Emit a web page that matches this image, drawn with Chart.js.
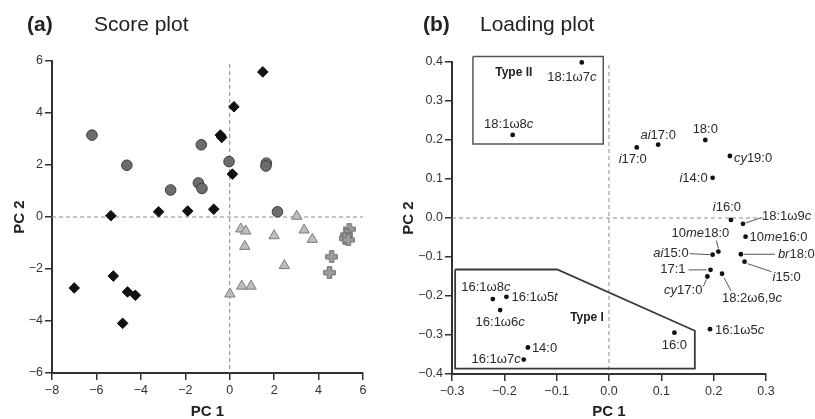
<!DOCTYPE html>
<html><head><meta charset="utf-8">
<script src="https://cdn.jsdelivr.net/npm/chart.js@4"></script>
<style>
html,body{margin:0;padding:0;background:#fff;}
#wrap{position:relative;width:815px;height:419px;overflow:hidden;font-family:"Liberation Sans",Arial,Helvetica,sans-serif;}
canvas{position:absolute;top:0;}
.t{position:absolute;font-size:21px;line-height:21px;color:#222;white-space:nowrap;}
</style></head><body>
<div id="wrap">
<canvas id="ca" width="400" height="419" style="left:0px"></canvas>
<canvas id="cb" width="415" height="419" style="left:400px"></canvas>
<div class="t" style="left:27px;top:13px;font-weight:bold">(a)</div>
<div class="t" style="left:94px;top:13px;">Score plot</div>
<div class="t" style="left:423px;top:13px;font-weight:bold">(b)</div>
<div class="t" style="left:480px;top:13px;">Loading plot</div>
</div>
<script>
// ---------- Score plot data (PC1, PC2) ----------
const diamondPts = [[1.49,5.58],[0.19,4.24],[-0.42,3.15],[-0.36,3.06],[0.12,1.65],[-3.2,0.2],[-1.89,0.23],[-0.72,0.3],[-5.35,0.05],[-5.24,-2.27],[-7.0,-2.73],[-4.6,-2.88],[-4.25,-3.01],[-4.82,-4.09]];
const circlePts = [[-6.2,3.15],[-4.63,1.99],[-1.28,2.78],[-0.03,2.13],[1.65,2.07],[1.63,1.96],[-1.41,1.31],[-1.25,1.1],[-2.66,1.04],[2.15,0.2]];
const trianglePts = [[3.02,0.03],[0.5,-0.46],[0.72,-0.54],[0.68,-1.13],[2.0,-0.72],[3.35,-0.5],[3.72,-0.86],[2.46,-1.87],[0.54,-2.66],[0.96,-2.66],[0.01,-2.96]];
const crossPts = [[5.38,-0.47],[5.27,-0.69],[5.19,-0.82],[5.34,-0.88],[4.59,-1.53],[4.49,-2.14]];
const scoreXTicks = {min:-8, max:6, step:2};
const scoreYTicks = {min:-6, max:6, step:2};

// ---------- Loading plot data ----------
const loadNames = ['18:1ω7_c_','18:1ω8_c_','_i_17:0','_ai_17:0','18:0','_cy_19:0','_i_14:0','_i_16:0','18:1ω9_c_','10_me_16:0','10_me_18:0','_ai_15:0','_br_18:0','_i_15:0','17:1','_cy_17:0','18:2ω6,9_c_','16:1ω5_c_','16:0','16:1ω8_c_','16:1ω5_t_','16:1ω6_c_','14:0','16:1ω7_c_'];
const loadPC1 = [-0.052,-0.184,0.053,0.094,0.184,0.231,0.198,0.233,0.256,0.261,0.209,0.198,0.252,0.259,0.194,0.188,0.216,0.193,0.125,-0.222,-0.196,-0.208,-0.155,-0.163];
const loadPC2 = [0.399,0.213,0.181,0.188,0.2,0.159,0.103,-0.005,-0.015,-0.048,-0.086,-0.094,-0.093,-0.112,-0.133,-0.15,-0.143,-0.285,-0.294,-0.208,-0.202,-0.236,-0.332,-0.363];
const typeIIBox = [[-0.26,0.414],[-0.011,0.414],[-0.011,0.19],[-0.26,0.19],[-0.26,0.414]];
const typeIBox = [[-0.294,-0.132],[-0.099,-0.132],[0.164,-0.289],[0.164,-0.386],[-0.294,-0.386],[-0.294,-0.132]];
const groupNames = ['Type II','Type I'];
const groupPos = [[-0.182,0.373],[-0.042,-0.256]];
const loadXTicks = {min:-0.3, max:0.3, step:0.1};
const loadYTicks = {min:-0.4, max:0.4, step:0.1};

// ---------- label placement (pixels relative to point) ----------
const labelPlace = [
 ['c',-10,15],['c',-4,-11],['c',-4,12],['c',0,-9],['c',0,-11],['l',4,2],['r',-5,1],['c',-4,-13],
 ['l',19,-7,[3,-1,18,-6]],['l',4,1],['c',-18,-18,[-2,-11,0,-3]],['r',-24,-1,[-23,-1,-3,0]],
 ['l',37,0,[3,0,34,0]],['l',28,16,[3,2,27,10]],['r',-25,0,[-22,0,-4,0]],['r',-5,14,[-4,10,-1,3]],
 ['l',0,25,[2,4,9,17]],['l',5,1],['c',0,13],['c',-7,-12],['l',5,1],['c',0,12],['l',4,1],['r',-3,0]
];

const FAM = '"Liberation Sans", Arial, Helvetica, sans-serif';
const toXY = a => a.map(p => ({x:p[0], y:p[1]}));

function plusImage(){
  const c = document.createElement('canvas'); c.width = 13; c.height = 13;
  const g = c.getContext('2d');
  const m = 6.5, a = 2.2, L = 5.8;
  g.beginPath();
  g.moveTo(m-a,m-L); g.lineTo(m+a,m-L); g.lineTo(m+a,m-a); g.lineTo(m+L,m-a); g.lineTo(m+L,m+a);
  g.lineTo(m+a,m+a); g.lineTo(m+a,m+L); g.lineTo(m-a,m+L); g.lineTo(m-a,m+a); g.lineTo(m-L,m+a);
  g.lineTo(m-L,m-a); g.lineTo(m-a,m-a); g.closePath();
  g.fillStyle = '#9c9c9c'; g.fill(); g.strokeStyle = '#6a6a6a'; g.lineWidth = 1; g.stroke();
  return c;
}

function fmtTick(dec){
  return v => { if (Math.abs(v) < 1e-9) v = 0; return v.toFixed(dec).replace('-', '\u2212'); };
}

function axis(t, title, isX, fixed, dec, titlePad){
  return {
    type:'linear', min:t.min, max:t.max,
    ticks:{stepSize:t.step, color:'#333', font:{size:12.5, family:FAM}, padding: isX?3:2,
      autoSkip:false, maxRotation:0, callback: fmtTick(dec)},
    grid:{display:true, drawOnChartArea:false, drawTicks:true, tickLength:7, color:'#333', lineWidth:1.5},
    border:{display:true, color:'#333', width:2},
    title:{display:true, text:title, color:'#222', font:{size:15, weight:'bold', family:FAM, lineHeight:1}, padding: titlePad},
    afterFit: s => { if (isX) s.height = fixed; else s.width = fixed; }
  };
}

const zeroLines = {
  id:'zeroLines',
  beforeDatasetsDraw(chart){
    const {ctx, chartArea:a, scales:{x, y}} = chart;
    const x0 = x.getPixelForValue(0), y0 = y.getPixelForValue(0);
    ctx.save();
    ctx.strokeStyle = '#8a8a8a'; ctx.lineWidth = 1; ctx.setLineDash([4,3]);
    ctx.beginPath();
    ctx.moveTo(x0, a.top + 3); ctx.lineTo(x0, a.bottom);
    ctx.moveTo(a.left, y0); ctx.lineTo(a.right, y0);
    ctx.stroke(); ctx.restore();
  }
};

// ---------- Chart A ----------
new Chart(document.getElementById('ca'), {
  type:'scatter',
  data:{datasets:[
    {data:toXY(circlePts), pointStyle:'circle', pointRadius:5.3, backgroundColor:'#6c6c6c', borderColor:'#3e3e3e', borderWidth:1},
    {data:toXY(trianglePts), pointStyle:'triangle', pointRadius:6, backgroundColor:'#bdbdbd', borderColor:'#7c7c7c', borderWidth:1},
    {data:toXY(crossPts), pointStyle:plusImage(), pointRadius:6},
    {data:toXY(diamondPts), pointStyle:'rectRot', pointRadius:5.3, backgroundColor:'#111', borderColor:'#111', borderWidth:1}
  ]},
  options:{
    responsive:false, animation:false,
    layout:{padding:{top:61, right:37, left:0, bottom:0}},
    plugins:{legend:{display:false}, tooltip:{enabled:false}},
    scales:{
      x: axis(scoreXTicks, 'PC 1', true, 46, 0, {top:0, bottom:0}),
      y: axis(scoreYTicks, 'PC 2', false, 52, 0, {top:12, bottom:0})
    }
  },
  plugins:[zeroLines]
});

// ---------- Chart B ----------
function drawRich(ctx, str, x, y, align, size){
  const parts = str.split('_');
  const fonts = parts.map((p,i) => (i % 2 ? 'italic ' : '') + size + 'px ' + FAM);
  let w = 0;
  parts.forEach((p,i) => { ctx.font = fonts[i]; w += ctx.measureText(p).width; });
  let sx = align === 'l' ? x : align === 'r' ? x - w : x - w/2;
  ctx.textAlign = 'left'; ctx.textBaseline = 'middle';
  parts.forEach((p,i) => { ctx.font = fonts[i]; ctx.fillText(p, sx, y); sx += ctx.measureText(p).width; });
}

const loadLabels = {
  id:'loadLabels',
  afterDatasetsDraw(chart){
    const {ctx, scales:{x, y}} = chart;
    const meta = chart.getDatasetMeta(2);
    ctx.save();
    ctx.fillStyle = '#2a2a2a'; ctx.strokeStyle = '#555'; ctx.lineWidth = 1;
    meta.data.forEach((el, i) => {
      const pl = labelPlace[i];
      if (pl[3]) {
        const L = pl[3];
        ctx.beginPath(); ctx.moveTo(el.x + L[0], el.y + L[1]); ctx.lineTo(el.x + L[2], el.y + L[3]); ctx.stroke();
      }
      drawRich(ctx, loadNames[i], el.x + pl[1], el.y + pl[2], pl[0], 13);
    });
    ctx.font = 'bold 12px ' + FAM; ctx.textAlign = 'center'; ctx.textBaseline = 'middle'; ctx.fillStyle = '#222';
    groupNames.forEach((n, i) => ctx.fillText(n, x.getPixelForValue(groupPos[i][0]), y.getPixelForValue(groupPos[i][1])));
    ctx.restore();
  }
};

new Chart(document.getElementById('cb'), {
  type:'scatter',
  data:{datasets:[
    {data:toXY(typeIIBox), showLine:true, pointRadius:0, borderColor:'#555', borderWidth:1.5, fill:false, clip:false, tension:0},
    {data:toXY(typeIBox), showLine:true, pointRadius:0, borderColor:'#3a3a3a', borderWidth:1.8, fill:false, clip:false, tension:0},
    {data:loadPC1.map((v,i) => ({x:v, y:loadPC2[i]})), pointStyle:'circle', pointRadius:2.4, backgroundColor:'#111', borderColor:'#111', borderWidth:0, clip:false}
  ]},
  options:{
    responsive:false, animation:false,
    layout:{padding:{top:62, right:49, left:0, bottom:0}},
    plugins:{legend:{display:false}, tooltip:{enabled:false}},
    scales:{
      x: axis(loadXTicks, 'PC 1', true, 45, 1, {top:0, bottom:0}),
      y: axis(loadYTicks, 'PC 2', false, 52, 1, {top:1.5, bottom:0})
    }
  },
  plugins:[zeroLines, loadLabels]
});
</script>
</body></html>
